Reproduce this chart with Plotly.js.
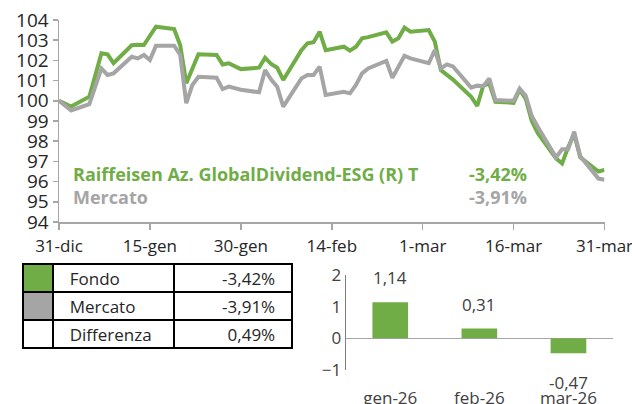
<!DOCTYPE html>
<html>
<head>
<meta charset="utf-8">
<script src="https://cdn.plot.ly/plotly-3.0.1.min.js"></script>
<style>html,body{margin:0;padding:0;background:#fff;}#chart{width:632px;height:404px;}</style>
</head>
<body>
<div id="chart"></div>
<script>
const dates = ['2025-12-31','2026-01-02','2026-01-05','2026-01-06','2026-01-07','2026-01-08','2026-01-09',
  '2026-01-12','2026-01-13','2026-01-14','2026-01-15','2026-01-16','2026-01-19','2026-01-20','2026-01-21',
  '2026-01-22','2026-01-23','2026-01-26','2026-01-27','2026-01-28','2026-01-29','2026-01-30','2026-02-02',
  '2026-02-03','2026-02-04','2026-02-05','2026-02-06','2026-02-09','2026-02-10','2026-02-11','2026-02-12',
  '2026-02-13','2026-02-16','2026-02-17','2026-02-18','2026-02-19','2026-02-20','2026-02-23','2026-02-24',
  '2026-02-25','2026-02-26','2026-02-27','2026-03-02','2026-03-03','2026-03-04','2026-03-05','2026-03-06',
  '2026-03-09','2026-03-10','2026-03-11','2026-03-12','2026-03-13','2026-03-16','2026-03-17','2026-03-18',
  '2026-03-19','2026-03-20','2026-03-23','2026-03-24','2026-03-25','2026-03-26','2026-03-27','2026-03-30','2026-03-31'];
const fondo = [100.00,99.72,100.20,101.30,102.35,102.30,101.86,
  102.75,102.78,102.76,103.25,103.67,103.55,102.75,100.87,
  101.60,102.30,102.27,101.80,101.86,101.70,101.57,101.64,
  102.13,101.82,101.64,101.03,102.50,102.85,102.90,103.42,
  102.51,102.68,102.48,102.68,103.09,103.15,103.39,102.93,
  103.10,103.62,103.42,103.50,102.93,101.52,101.30,101.05,
  100.20,99.75,100.75,100.85,99.95,99.90,100.55,100.10,
  99.00,98.40,97.15,96.90,97.70,98.35,97.20,96.50,96.58];
const mercato = [100.00,99.52,99.83,100.70,101.60,101.28,101.36,
  102.18,102.10,102.27,102.02,102.73,102.73,102.27,99.88,
  100.78,101.19,101.14,100.58,100.70,100.60,100.55,100.42,
  101.52,101.05,100.70,99.71,101.11,101.28,101.28,101.69,
  100.29,100.45,100.37,100.78,101.36,101.60,101.97,101.14,
  101.70,102.23,102.10,101.86,102.51,101.60,101.80,101.70,
  100.65,100.75,100.72,101.10,100.04,100.00,100.60,100.25,
  99.25,98.70,97.20,97.60,97.60,98.47,97.25,96.15,96.09];

const xTickVals = ['2025-12-31','2026-01-15','2026-01-30','2026-02-14','2026-03-01','2026-03-16','2026-03-31'];
const xTickText = ['31-dic','15-gen','30-gen','14-feb','1-mar','16-mar','31-mar'];
const yTickVals = [94,95,96,97,98,99,100,101,102,103,104];

const fundName = 'Raiffeisen Az. GlobalDividend-ESG (R) T';
const marketName = 'Mercato';
const tableLabels = ['Fondo','Mercato','Differenza'];
const tablePerf = [-3.42, -3.91, 0.49];

const monthCats = ['gen-26','feb-26','mar-26'];
const monthVals = [1.14, 0.31, -0.47];
const barTickVals = [-1,0,1,2];

const GREEN = '#70AD47', GREY = '#A5A5A5', AXIS = '#A6A6A6', TXT = '#262626';
const FONT = 'Open Sans, sans-serif';
const fmt = v => v.toFixed(2).replace('.', ',');
const NB = '\u00a0';

const traces = [
  {type:'scatter', mode:'lines', x:dates, y:fondo, xaxis:'x', yaxis:'y',
   line:{color:GREEN, width:4}, hoverinfo:'skip', showlegend:false},
  {type:'scatter', mode:'lines', x:dates, y:mercato, xaxis:'x', yaxis:'y',
   line:{color:GREY, width:4}, hoverinfo:'skip', showlegend:false},
  {type:'bar', x:monthCats, y:monthVals, xaxis:'x2', yaxis:'y2', width:0.4,
   marker:{color:GREEN}, hoverinfo:'skip', showlegend:false},
  {type:'table', domain:{x:[23/632, 293/632], y:[1-354/404, 1-264/404]},
   columnwidth:[30,122,118],
   header:{values:['', NB+NB+tableLabels[0], fmt(tablePerf[0])+'%'+NB+NB],
     fill:{color:[GREEN,'#fff','#fff']}, line:{color:'#000', width:2},
     align:['left','left','right'], height:28, font:{family:FONT, size:17, color:TXT}},
   cells:{values:[['',''], tableLabels.slice(1).map(s=>NB+NB+s), tablePerf.slice(1).map(v=>fmt(v)+'%'+NB+NB)],
     fill:{color:[[GREY,'#fff'],['#fff','#fff'],['#fff','#fff']]}, line:{color:'#000', width:2},
     align:['left','left','right'], height:28, font:{family:FONT, size:17, color:TXT}}}
];

const annotations = [
  {xref:'paper', yref:'paper', x:71/632, y:1-174/404, xanchor:'left', yanchor:'middle', showarrow:false,
   text:'<b>'+fundName+'</b>', font:{family:FONT, size:18, color:GREEN}},
  {xref:'paper', yref:'paper', x:71/632, y:1-197/404, xanchor:'left', yanchor:'middle', showarrow:false,
   text:'<b>'+marketName+'</b>', font:{family:FONT, size:18, color:GREY}},
  {xref:'paper', yref:'paper', x:467/632, y:1-174/404, xanchor:'left', yanchor:'middle', showarrow:false,
   text:'<b>'+fmt(tablePerf[0])+'%</b>', font:{family:FONT, size:18, color:GREEN}},
  {xref:'paper', yref:'paper', x:467/632, y:1-197/404, xanchor:'left', yanchor:'middle', showarrow:false,
   text:'<b>'+fmt(tablePerf[1])+'%</b>', font:{family:FONT, size:18, color:GREY}}
];
monthCats.forEach((c,i)=>{
  const v = monthVals[i];
  annotations.push({xref:'x2', yref:'y2', x:c, y:v, showarrow:false,
    yanchor: v>=0 ? 'bottom' : 'top', yshift: v>=0 ? 11 : -16,
    text: fmt(v), font:{family:FONT, size:17, color:'#404040'}});
});

const layout = {
  width:632, height:404, margin:{l:0,r:0,t:0,b:0}, paper_bgcolor:'#fff', plot_bgcolor:'rgba(0,0,0,0)',
  showlegend:false, font:{family:FONT, color:TXT},
  xaxis:{type:'date', domain:[59/632, 604.5/632], anchor:'y', range:['2025-12-31','2026-03-31'],
    tickvals:xTickVals, ticktext:xTickText, showgrid:false, zeroline:false, ticklabeloverflow:'allow',
    showline:true, linecolor:AXIS, linewidth:1.5, ticks:'outside', ticklen:6, tickcolor:AXIS, tickwidth:1.5,
    ticklabelstandoff:2, tickfont:{family:FONT, size:17, color:TXT}, fixedrange:true},
  yaxis:{domain:[1-222/404, 1-20/404], anchor:'x', range:[94,104], tickvals:yTickVals,
    showgrid:false, zeroline:false, showline:true, linecolor:AXIS, linewidth:1.5,
    ticks:'outside', ticklen:5, tickcolor:AXIS, tickwidth:1.5,
    tickfont:{family:FONT, size:19, color:TXT}, fixedrange:true},
  xaxis2:{type:'category', domain:[345.7/632, 613/632], anchor:'y2', showgrid:false, zeroline:false,
    showline:false, ticks:'outside', ticklen:13, tickcolor:'rgba(0,0,0,0)',
    tickfont:{family:FONT, size:17, color:'#404040'}, fixedrange:true},
  yaxis2:{domain:[1-370/404, 1-275/404], anchor:'x2', range:[-1,2], tickvals:barTickVals,
    showgrid:false, zeroline:true, zerolinecolor:AXIS, zerolinewidth:1.5,
    showline:true, linecolor:'#7F7F7F', linewidth:1, ticks:'', 
    tickfont:{family:FONT, size:17, color:'#404040'}, fixedrange:true},
  annotations: annotations
};

Plotly.newPlot('chart', traces, layout, {displayModeBar:false, staticPlot:true});
</script>
</body>
</html>
